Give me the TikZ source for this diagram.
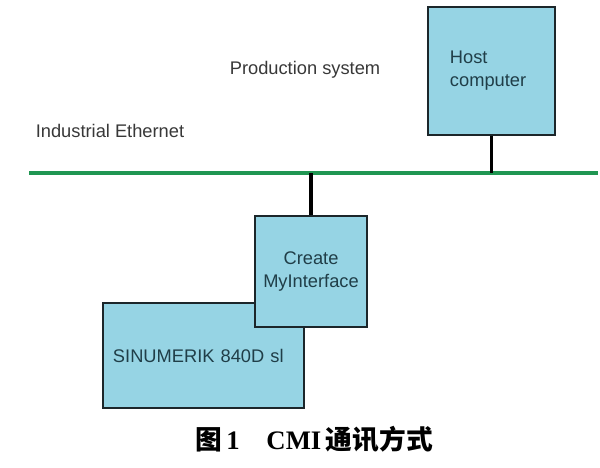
\documentclass[tikz,border=0pt]{standalone}
\usepackage{fontspec}
\setmainfont{Liberation Sans}
\newfontfamily\capfont{Liberation Serif}
\newfontfamily\cjk{Noto Sans CJK SC}
\usetikzlibrary{calc}

\definecolor{boxblue}{RGB}{150,212,228}
\definecolor{boxline}{RGB}{28,38,42}
\definecolor{boxtext}{RGB}{32,62,72}
\definecolor{busgreen}{RGB}{32,150,82}

\begin{document}
\begin{tikzpicture}[x=0.025cm, y=-0.025cm,
	devbox/.style={draw=boxline, line width=1.6pt, fill=boxblue, text=boxtext, font=\fontsize{13}{16.3}\selectfont},
	plaintext/.style={text=black!78, font=\fontsize{13}{16.3}\selectfont},
	stemline/.style={line width=2.8pt, black}]
	%%%%% START %%%%%
	
	\useasboundingbox (0,0) rectangle (600,468);
	
	% bus
	\coordinate (busL) at (29,173);
	\coordinate (busR) at (598,173);
	\draw[line width=2.8pt, busgreen] (busL) -- (busR);
	
	\node[plaintext] (prod) at (305,70) {Production system};
	\node[plaintext] (ieth) at (110,131) {Industrial Ethernet};
	
	% stations
	\node[devbox, minimum width=3.175cm, minimum height=3.2cm, inner xsep=0.55cm, text width=2.075cm, align=left] (host) at (491.5,71) {Host\\computer};
	\node[devbox, minimum width=5.025cm, minimum height=2.625cm, inner xsep=0.25cm, text width=4.525cm, align=left] (sinu) at (203.5,355.5) {SINUMERIK 840D sl};
	\node[devbox, minimum width=2.8cm, minimum height=2.775cm, align=center] (cmi) at (311,271.5) {Create\\MyInterface};
	
	\draw[stemline] (host.south) -- (host.south |- busL);
	\draw[stemline] (cmi.north) -- (cmi.north |- busL);
	
	% caption
	\node[font=\fontsize{19}{22}\selectfont\bfseries] (cap) at (314,439) {{\cjk 图}\,\capfont 1\quad CMI\,{\cjk 通讯方式}};
	
	%%%%% END %%%%%
\end{tikzpicture}
\end{document}
